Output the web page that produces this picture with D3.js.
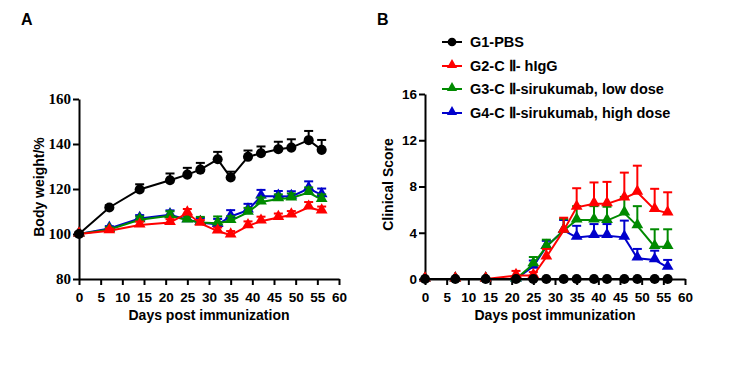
<!DOCTYPE html>
<html>
<head>
<meta charset="utf-8">
<script src="https://cdn.jsdelivr.net/npm/d3@7"></script>
<style>
  body { margin: 0; background: #fff; }
  .axis path, .axis line { stroke: #000; stroke-width: 2px; }
  .title { font-family: Arial, "Liberation Sans", sans-serif; font-weight: bold; font-size: 14px; }
  .legend text { font-family: Arial, "Liberation Sans", sans-serif; font-weight: bold; font-size: 14.5px; }
</style>
</head>
<body>
<div id="chart"></div>
<script>
var days = [0, 7, 14, 21, 25, 28, 32, 35, 39, 42, 46, 49, 53, 56];

var groups = ["G1-PBS", "G2-C \u2161- hIgG", "G3-C \u2161-sirukumab, low dose", "G4-C \u2161-sirukumab, high dose"];
var colors = ["#000000", "#ff0000", "#008a00", "#0000cc"];
var shapes = ["circle", "triangle", "triangle", "triangle"];

// body weight (%) panel A
var bwG1 = [100, 111.8, 119.8, 123.9, 126.4, 128.6, 133.2, 125.1, 134.3, 135.9, 137.7, 138.4, 141.7, 137.4];
var bwG1err = [0.8, 1, 2.3, 3, 3, 3, 3.3, 2.6, 2.8, 3, 3.3, 3.7, 4.1, 4.4];
var bwG2 = [100, 101.4, 104, 105.1, 109.3, 104.7, 101.3, 99.5, 103.6, 105.7, 107.3, 108.4, 111.9, 110.2];
var bwG2err = [0.5, 1, 1.5, 1.5, 1.8, 1.5, 1.6, 1.8, 2, 2, 1.8, 1.8, 2.3, 2];
var bwG3 = [100, 102, 106.3, 108.1, 106.2, 105.1, 104.8, 105.9, 109.6, 114.2, 115.6, 116, 118.4, 115.3];
var bwG3err = [0.5, 1, 1.5, 2, 1.5, 2.5, 3, 2, 2, 2, 2, 2, 2.3, 2.3];
var bwG4 = [100, 102.5, 106.9, 108.5, 106.3, 105.1, 104.2, 107.8, 110.6, 116.8, 116.8, 116.7, 120.2, 117.4];
var bwG4err = [0.5, 1, 1.5, 2, 1.5, 2, 2.5, 2.8, 2.8, 2.8, 2.3, 2.3, 3.2, 2.8];

// clinical score panel B
var csG1 = [0, 0, 0, 0, 0, 0, 0, 0, 0, 0, 0, 0, 0, 0];
var csG1err = [0, 0, 0, 0, 0, 0, 0, 0, 0, 0, 0, 0, 0, 0];
var csG2 = [0, 0, 0, 0.3, 0.3, 1.9, 4.2, 6.2, 6.5, 6.5, 7.0, 7.5, 6.0, 5.7];
var csG2err = [0, 0, 0, 0.4, 0.3, 0.7, 1.1, 1.65, 1.85, 1.9, 2.2, 2.3, 1.8, 1.8];
var csG3 = [0, 0, 0, 0, 1.3, 2.8, 4.2, 5.1, 5.1, 5.05, 5.7, 4.6, 2.8, 2.8];
var csG3err = [0, 0, 0, 0, 0.6, 0.6, 1, 1.2, 1.2, 1.2, 1.4, 1.7, 1.5, 1.5];
var csG4 = [0, 0, 0, 0, 1.1, 2.8, 4.2, 3.6, 3.75, 3.75, 3.6, 1.8, 1.65, 1.0];
var csG4err = [0, 0, 0, 0, 0.5, 0.5, 0.9, 1.0, 1.0, 1.0, 1.45, 0.8, 0.8, 0.65];

var xTicks = [0, 5, 10, 15, 20, 25, 30, 35, 40, 45, 50, 55, 60];
var bwTicks = [80, 100, 120, 140, 160];
var csTicks = [0, 4, 8, 12, 16];

var sans = "Arial, 'Liberation Sans', sans-serif";
var serif = "'Liberation Serif', 'Times New Roman', 'DejaVu Serif', serif";

var svg = d3.select("#chart").append("svg")
    .attr("width", 752)
    .attr("height", 371);

function panel(opt) {
    var x = d3.scaleLinear().domain([0, 60]).range([opt.x0, opt.x1]);
    var y = d3.scaleLinear().domain(opt.ydomain).range([opt.y1, opt.y0]);
    var g = svg.append("g");

    g.append("g")
        .attr("class", "axis")
        .attr("transform", "translate(0," + opt.y1 + ")")
        .call(d3.axisBottom(x).tickValues(xTicks).tickSize(6).tickSizeOuter(0))
        .selectAll("text")
        .attr("dy", "1.0em")
        .style("font-family", sans).style("font-weight", "bold").style("font-size", "13.5px").style("fill", "#000");

    var ya = g.append("g")
        .attr("class", "axis")
        .attr("transform", "translate(" + opt.x0 + ",0)")
        .call(d3.axisLeft(y).tickValues(opt.yticks).tickSize(6).tickSizeOuter(0));
    if (opt.serif) ya.attr("font-family", serif);
    ya.selectAll("text")
        .attr("x", -8)
        .style("font-family", opt.serif ? serif : sans)
        .style("font-weight", "bold")
        .style("font-size", opt.serif ? "15px" : "13.5px")
        .style("fill", "#000");

    g.append("text")
        .attr("class", "title")
        .attr("x", (opt.x0 + opt.x1) / 2)
        .attr("y", 320)
        .attr("text-anchor", "middle")
        .text("Days post immunization");

    g.append("text")
        .attr("class", "title")
        .attr("transform", "translate(" + opt.ytx + "," + ((opt.y0 + opt.y1) / 2 - 2) + ") rotate(-90)")
        .attr("text-anchor", "middle")
        .text(opt.ytitle);

    g.append("text")
        .attr("x", opt.labx)
        .attr("y", 25)
        .attr("font-family", sans)
        .attr("font-weight", "bold")
        .attr("font-size", 16)
        .text(opt.label);

    var line = d3.line()
        .x(function(d, i) { return x(days[i]); })
        .y(function(d) { return y(d); });

    for (var k = opt.series.length - 1; k >= 0; k--) {
        var vals = opt.series[k], errs = opt.errs[k], col = colors[k];
        var sg = g.append("g");
        var withErr = d3.range(vals.length).filter(function(i) { return errs[i] > 0; });

        sg.selectAll(".eb").data(withErr).enter().append("line")
            .attr("x1", function(i) { return x(days[i]); })
            .attr("x2", function(i) { return x(days[i]); })
            .attr("y1", function(i) { return y(vals[i]); })
            .attr("y2", function(i) { return y(vals[i] + errs[i]); })
            .attr("stroke", col).attr("stroke-width", 2);

        sg.selectAll(".cap").data(withErr).enter().append("line")
            .attr("x1", function(i) { return x(days[i]) - 4.5; })
            .attr("x2", function(i) { return x(days[i]) + 4.5; })
            .attr("y1", function(i) { return y(vals[i] + errs[i]); })
            .attr("y2", function(i) { return y(vals[i] + errs[i]); })
            .attr("stroke", col).attr("stroke-width", 2);

        sg.append("path")
            .datum(vals)
            .attr("d", line)
            .attr("fill", "none")
            .attr("stroke", col)
            .attr("stroke-width", 2);

        var sym = d3.symbol()
            .type(shapes[k] == "circle" ? d3.symbolCircle : d3.symbolTriangle)
            .size(shapes[k] == "circle" ? 80 : 60);

        sg.selectAll(".pt").data(vals).enter().append("path")
            .attr("d", sym)
            .attr("transform", function(d, i) {
                return "translate(" + x(days[i]) + "," + (y(d) + (shapes[k] == "circle" ? 0 : -1)) + ")";
            })
            .attr("fill", col);
    }
}

panel({
    x0: 79, x1: 339, y0: 99, y1: 279,
    ydomain: [80, 160], yticks: bwTicks, serif: true,
    ytitle: "Body weight/%", ytx: 44, label: "A", labx: 21,
    series: [bwG1, bwG2, bwG3, bwG4],
    errs: [bwG1err, bwG2err, bwG3err, bwG4err]
});

panel({
    x0: 425, x1: 685, y0: 94, y1: 279,
    ydomain: [0, 16], yticks: csTicks, serif: false,
    ytitle: "Clinical Score", ytx: 393, label: "B", labx: 377,
    series: [csG1, csG2, csG3, csG4],
    errs: [csG1err, csG2err, csG3err, csG4err]
});

// legend
var legend = svg.append("g").attr("class", "legend");
var legY = [42, 66, 89, 113];
groups.forEach(function(name, k) {
    var lg = legend.append("g").attr("transform", "translate(442," + legY[k] + ")");
    lg.append("line").attr("x1", 0).attr("x2", 20).attr("stroke", colors[k]).attr("stroke-width", 2);
    lg.append("path")
        .attr("d", d3.symbol().type(shapes[k] == "circle" ? d3.symbolCircle : d3.symbolTriangle).size(shapes[k] == "circle" ? 60 : 45))
        .attr("transform", "translate(10," + (shapes[k] == "circle" ? 0 : -1) + ")")
        .attr("fill", colors[k]);
    lg.append("text").attr("x", 28).attr("y", 5).text(name);
});
</script>
</body>
</html>
